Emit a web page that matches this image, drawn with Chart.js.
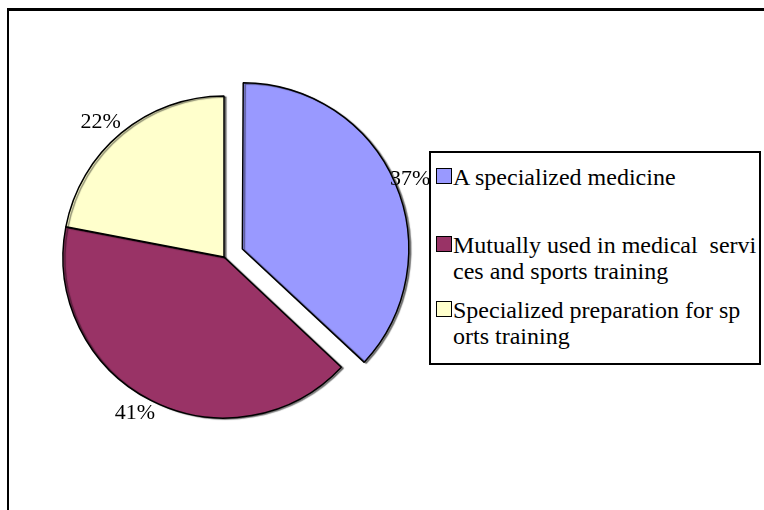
<!DOCTYPE html>
<html>
<head>
<meta charset="utf-8">
<script src="https://cdn.jsdelivr.net/npm/chart.js@4/dist/chart.umd.min.js"></script>
<style>
    body { margin: 0; background: #fff; }
    #wrap { position: relative; width: 764px; height: 510px; overflow: hidden; }
    #frame { position: absolute; left: 7px; top: 8px; width: 900px; height: 700px;
             border-top: 3px solid #000; border-left: 2px solid #000; }
    #chartBox { position: absolute; left: 0; top: 0; width: 764px; height: 510px; }
    #legend { position: absolute; left: 429px; top: 151px; width: 328px; height: 210px;
              border: 2px solid #000; background: #fff;
              font-family: "Liberation Serif", "Times New Roman", serif; font-size: 24px; color: #000; }
    .item { position: absolute; left: 5px; display: flex; align-items: flex-start; line-height: 26px; }
    .swatch { width: 14px; height: 14px; border: 1.5px solid #000; margin-top: 4px; margin-right: 1px; flex: none; }
    .item span { display: block; white-space: pre; }
</style>
</head>
<body>
<div id="wrap">
    <div id="frame"></div>
    <div id="chartBox"><canvas id="pieChart"></canvas></div>
    <div id="legend"></div>
</div>
<script>
    // Data
    const categories = [
        ["A specialized medicine"],
        ["Mutually used in medical  servi", "ces and sports training"],
        ["Specialized preparation for sp", "orts training"]
    ];
    const shares = [37, 41, 22];
    const colors = ["#9999FF", "#993366", "#FFFFCC"];

    // pulled-out distance in px (chart.js moves an arc by offset / 4)
    const explodePx = [20, 0, 0];

    // legend (html, so the text can wrap like the original)
    const legendTops = [11, 79, 144];
    const legend = document.getElementById("legend");
    categories.forEach(function (lines, i) {
        const item = document.createElement("div");
        item.className = "item";
        item.style.top = legendTops[i] + "px";
        item.innerHTML = '<div class="swatch" style="background:' + colors[i] + '"></div><div>' +
            lines.map(function (l) { return "<span>" + l + "</span>"; }).join("") + "</div>";
        legend.appendChild(item);
    });

    // soft shadow like the old office pie
    const pieShadow = {
        id: "pieShadow",
        beforeDatasetsDraw(chart) {
            const ctx = chart.ctx;
            ctx.save();
            ctx.shadowColor = "rgba(0,0,0,0.45)";
            ctx.shadowOffsetX = 2;
            ctx.shadowOffsetY = 1;
            ctx.shadowBlur = 1;
        },
        afterDatasetsDraw(chart) {
            chart.ctx.restore();
        }
    };

    // percentage labels outside the slices
    const outsideLabels = {
        id: "outsideLabels",
        afterDatasetsDraw(chart) {
            const ctx = chart.ctx;
            const meta = chart.getDatasetMeta(0);
            ctx.save();
            ctx.font = '22px "Liberation Serif", serif';
            ctx.fillStyle = "#000";
            ctx.textAlign = "center";
            ctx.textBaseline = "middle";
            meta.data.forEach(function (arc, i) {
                const p = arc.getProps(["x", "y", "startAngle", "endAngle", "outerRadius"], true);
                const mid = (p.startAngle + p.endAngle) / 2;
                const txt = shares[i] + "%";
                const w = ctx.measureText(txt).width;
                const d = p.outerRadius + explodePx[i] + 6;
                const cx = p.x + Math.cos(mid) * d + Math.cos(mid) * w / 2;
                const cy = p.y + Math.sin(mid) * d + Math.sin(mid) * 8;
                ctx.fillText(txt, cx - 4, cy);
            });
            ctx.restore();
        }
    };

    new Chart(document.getElementById("pieChart"), {
        type: "pie",
        data: {
            labels: categories.map(function (l) { return l.join(""); }),
            datasets: [{
                data: shares,
                backgroundColor: colors,
                borderColor: "#000",
                borderWidth: 1.5,
                offset: explodePx.map(function (v) { return v * 4; }),
                radius: 161
            }]
        },
        options: {
            responsive: true,
            maintainAspectRatio: false,
            animation: false,
            events: [],
            layout: { padding: { left: 40, right: 356, top: 50, bottom: 46 } },
            plugins: {
                legend: { display: false },
                tooltip: { enabled: false }
            }
        },
        plugins: [pieShadow, outsideLabels]
    });
</script>
</body>
</html>
